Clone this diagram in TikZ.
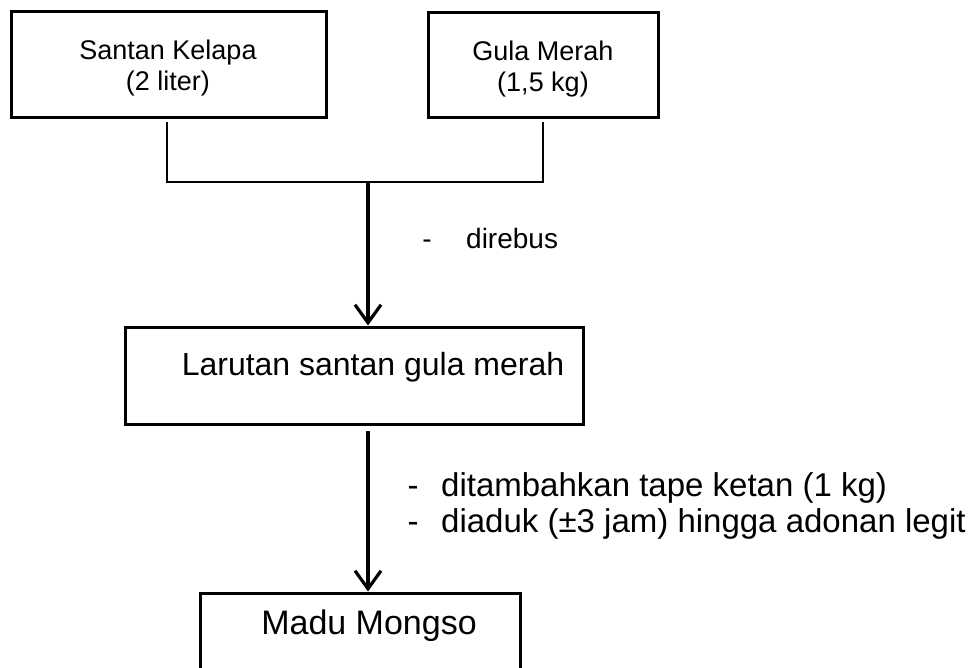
\documentclass[tikz,border=0pt]{standalone}
\usepackage{fontspec}
\setmainfont{Liberation Sans}
\usetikzlibrary{arrows.meta}
\begin{document}
\begin{tikzpicture}[x=1pt,y=-1pt,
  box/.style={draw, line width=3pt, inner sep=0pt},
  flow/.style={line width=3.5pt, -{Straight Barb[length=18pt,width=26pt,line width=3.2pt]}},
  joinline/.style={line width=1.2pt},
  smalltext/.style={inner sep=0pt, align=center, anchor=base, font=\fontsize{27}{31}\selectfont},
  bigtext/.style={inner sep=0pt, anchor=base, font=\fontsize{32}{36}\selectfont},
  steptext/.style={inner sep=0pt, anchor=base west, font=\fontsize{33}{36}\selectfont},
  notetext/.style={inner sep=0pt, anchor=base west, font=\fontsize{28}{32}\selectfont},
]
\useasboundingbox (0,0) rectangle (973,668);
\clip (0,0) rectangle (973,668);

% input boxes
\node[box, minimum width=315pt, minimum height=106pt] (santan) at (168.5,65) {};
\node[box, minimum width=230pt, minimum height=105pt] (gula) at (543,65.5) {};
\node[smalltext] (santanT) at (168,91) {Santan Kelapa\\(2 liter)};
\node[smalltext] (gulaT) at (543,92) {Gula Merah\\(1,5 kg)};

% joining bracket
\coordinate (jl) at (167,122);
\coordinate (jr) at (543,122);
\coordinate (jlb) at (167,182);
\coordinate (jrb) at (543,182);
\coordinate (jm) at (368,182);
\draw[joinline] (jl) -- (jlb) -- (jrb) -- (jr);

% intermediate product
\node[box, minimum width=458pt, minimum height=97pt] (larutan) at (354,375.5) {};
\node[bigtext] (larutanT) at (373,375) {Larutan santan gula merah};
\draw[flow] (jm) -- (jm |- larutan.north);

\node[notetext, anchor=base] (d1) at (427,248) {-};
\node[notetext] (rebus) at (466,248) {direbus};

% final product
\node[box, minimum width=320pt, minimum height=130pt] (madu) at (360,658) {};
\node[bigtext, font=\fontsize{34}{38}\selectfont] (maduT) at (369,634) {Madu Mongso};
\coordinate (s2) at (368,431);
\draw[flow] (s2) -- (s2 |- madu.north);

\node[steptext, anchor=base] (d2) at (413,496) {-};
\node[steptext] (tape) at (441,496) {ditambahkan tape ketan (1 kg)};
\node[steptext, anchor=base] (d3) at (413,532) {-};
\node[steptext] (aduk) at (441,532) {diaduk (±3 jam) hingga adonan legit};
\end{tikzpicture}
\end{document}
